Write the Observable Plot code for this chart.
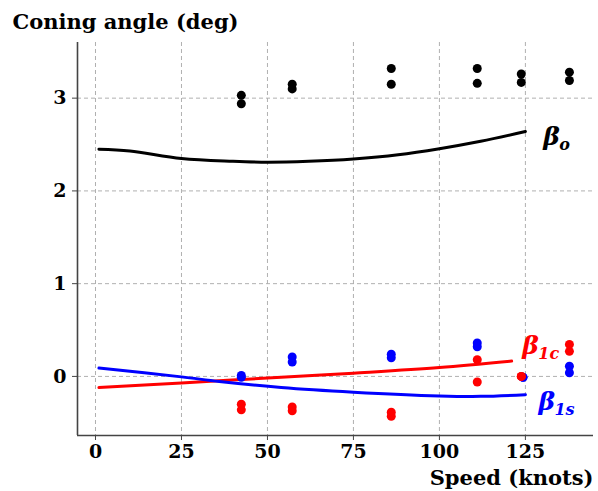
<!DOCTYPE html>
<html>
<head>
<meta charset="utf-8">
<script src="https://cdn.jsdelivr.net/npm/d3@7"></script>
<script src="https://cdn.jsdelivr.net/npm/@observablehq/plot@0.6"></script>
<style>
  html, body { margin: 0; padding: 0; background: #fff; }
  #chart svg { display: block; }
</style>
</head>
<body>
<div id="chart"></div>
<script>
// ---- data ----
const pointSpeeds = [42.4, 57.2, 86.0, 111.0, 123.8, 137.8];
const beta0A  = [3.03, 3.15, 3.32, 3.32, 3.26, 3.28];
const beta0B  = [2.94, 3.10, 3.15, 3.16, 3.17, 3.19];
const beta1sSpeeds = [42.4, 57.2, 86.0, 111.0, 124.3, 137.8];
const beta1sA = [0.01, 0.21, 0.24, 0.36, -0.01, 0.11];
const beta1sB = [-0.01, 0.155, 0.20, 0.32, -0.01, 0.04];
const beta1cA = [-0.30, -0.33, -0.385, 0.18, 0.0, 0.345];
const beta1cB = [-0.36, -0.37, -0.43, -0.06, 0.0, 0.27];

const curve0Speeds = [1, 10, 25, 40, 50, 62, 75, 88, 100, 112, 125];
const curve0Values = [2.45, 2.43, 2.35, 2.32, 2.31, 2.32, 2.345, 2.39, 2.455, 2.535, 2.64];
const curve1cSpeeds = [1, 25, 54, 75, 100, 121];
const curve1cValues = [-0.12, -0.07, -0.01, 0.035, 0.095, 0.165];
const curve1sSpeeds = [1, 25, 36, 54, 75, 100, 112, 125];
const curve1sValues = [0.09, -0.005, -0.055, -0.12, -0.17, -0.21, -0.215, -0.197];

const xTicks = [0, 25, 50, 75, 100, 125];
const yTicks = [0, 1, 2, 3];
const xDomain = [-5.23, 144.8];
const yDomain = [-0.637, 3.60];

const labelSubs = ["o", "1c", "1s"];
const labelColors = ["black", "#ff0000", "#0000ff"];
const labelX = [130.2, 124.1, 128.8];
const labelY = [2.49, 0.237, -0.367];

const titleText = "Coning angle (deg)";
const xLabelText = "Speed (knots)";

// ---- build tables ----
const pts = (xs, a, b) => xs.flatMap((x, i) => [{x, y: a[i]}, {x, y: b[i]}]);
const line = (xs, ys) => xs.map((x, i) => ({x, y: ys[i]}));
const labels = labelSubs.map((s, i) => ({x: labelX[i], y: labelY[i], sub: s, color: labelColors[i]}));

const serif = "'DejaVu Serif', serif";
const gridStyle = {stroke: "#b0b0b0", strokeOpacity: 1, strokeWidth: 1, strokeDasharray: "4,3"};

const chart = Plot.plot({
  width: 598,
  height: 491,
  marginLeft: 77,
  marginRight: 5,
  marginTop: 42,
  marginBottom: 56,
  style: {fontFamily: serif, fontWeight: "bold", fontSize: "19px", color: "black", background: "white"},
  x: {domain: xDomain},
  y: {domain: yDomain},
  marks: [
    Plot.gridX(xTicks, gridStyle),
    Plot.gridY(yTicks, gridStyle),
    Plot.ruleX([xDomain[0]], {stroke: "#444", strokeWidth: 1.6}),
    Plot.ruleY([yDomain[0]], {stroke: "#444", strokeWidth: 1.6}),
    Plot.axisX({ticks: xTicks, tickSize: 5, tickPadding: 4, stroke: "#444", fill: "black", label: null, tickFormat: d => String(d)}),
    Plot.axisY({ticks: yTicks, tickSize: 5, tickPadding: 6, stroke: "#444", fill: "black", label: null, tickFormat: d => String(d)}),
    Plot.line(line(curve0Speeds, curve0Values), {x: "x", y: "y", stroke: "black", strokeWidth: 3, curve: "catmull-rom"}),
    Plot.line(line(curve1cSpeeds, curve1cValues), {x: "x", y: "y", stroke: "#ff0000", strokeWidth: 3, curve: "catmull-rom"}),
    Plot.line(line(curve1sSpeeds, curve1sValues), {x: "x", y: "y", stroke: "#0000ff", strokeWidth: 3, curve: "catmull-rom"}),
    Plot.dot(pts(pointSpeeds, beta0A, beta0B), {x: "x", y: "y", r: 4.5, fill: "black", stroke: "none"}),
    Plot.dot(pts(beta1sSpeeds, beta1sA, beta1sB), {x: "x", y: "y", r: 4.5, fill: "#0000ff", stroke: "none"}),
    Plot.dot(pts(pointSpeeds, beta1cA, beta1cB), {x: "x", y: "y", r: 4.5, fill: "#ff0000", stroke: "none"}),
    Plot.text(labels, {x: "x", y: "y", text: () => "β", fill: "color", textAnchor: "start", lineAnchor: "bottom", fontSize: 25, fontStyle: "italic", fontWeight: "bold", fontFamily: serif}),
    Plot.text(labels, {x: "x", y: "y", text: "sub", fill: "color", textAnchor: "start", lineAnchor: "bottom", dx: 16, dy: 5, fontSize: 16, fontStyle: "italic", fontWeight: "bold", fontFamily: serif}),
    Plot.text([titleText], {frameAnchor: "top-left", dx: -65, dy: -14, textAnchor: "start", lineAnchor: "bottom", fontSize: 21, fontWeight: "bold", fontFamily: serif, fill: "black"}),
    Plot.text([xLabelText], {frameAnchor: "bottom-right", dx: 0, dy: 49, textAnchor: "end", lineAnchor: "bottom", fontSize: 21, fontWeight: "bold", fontFamily: serif, fill: "black"})
  ]
});
document.getElementById("chart").appendChild(chart);
</script>
</body>
</html>
